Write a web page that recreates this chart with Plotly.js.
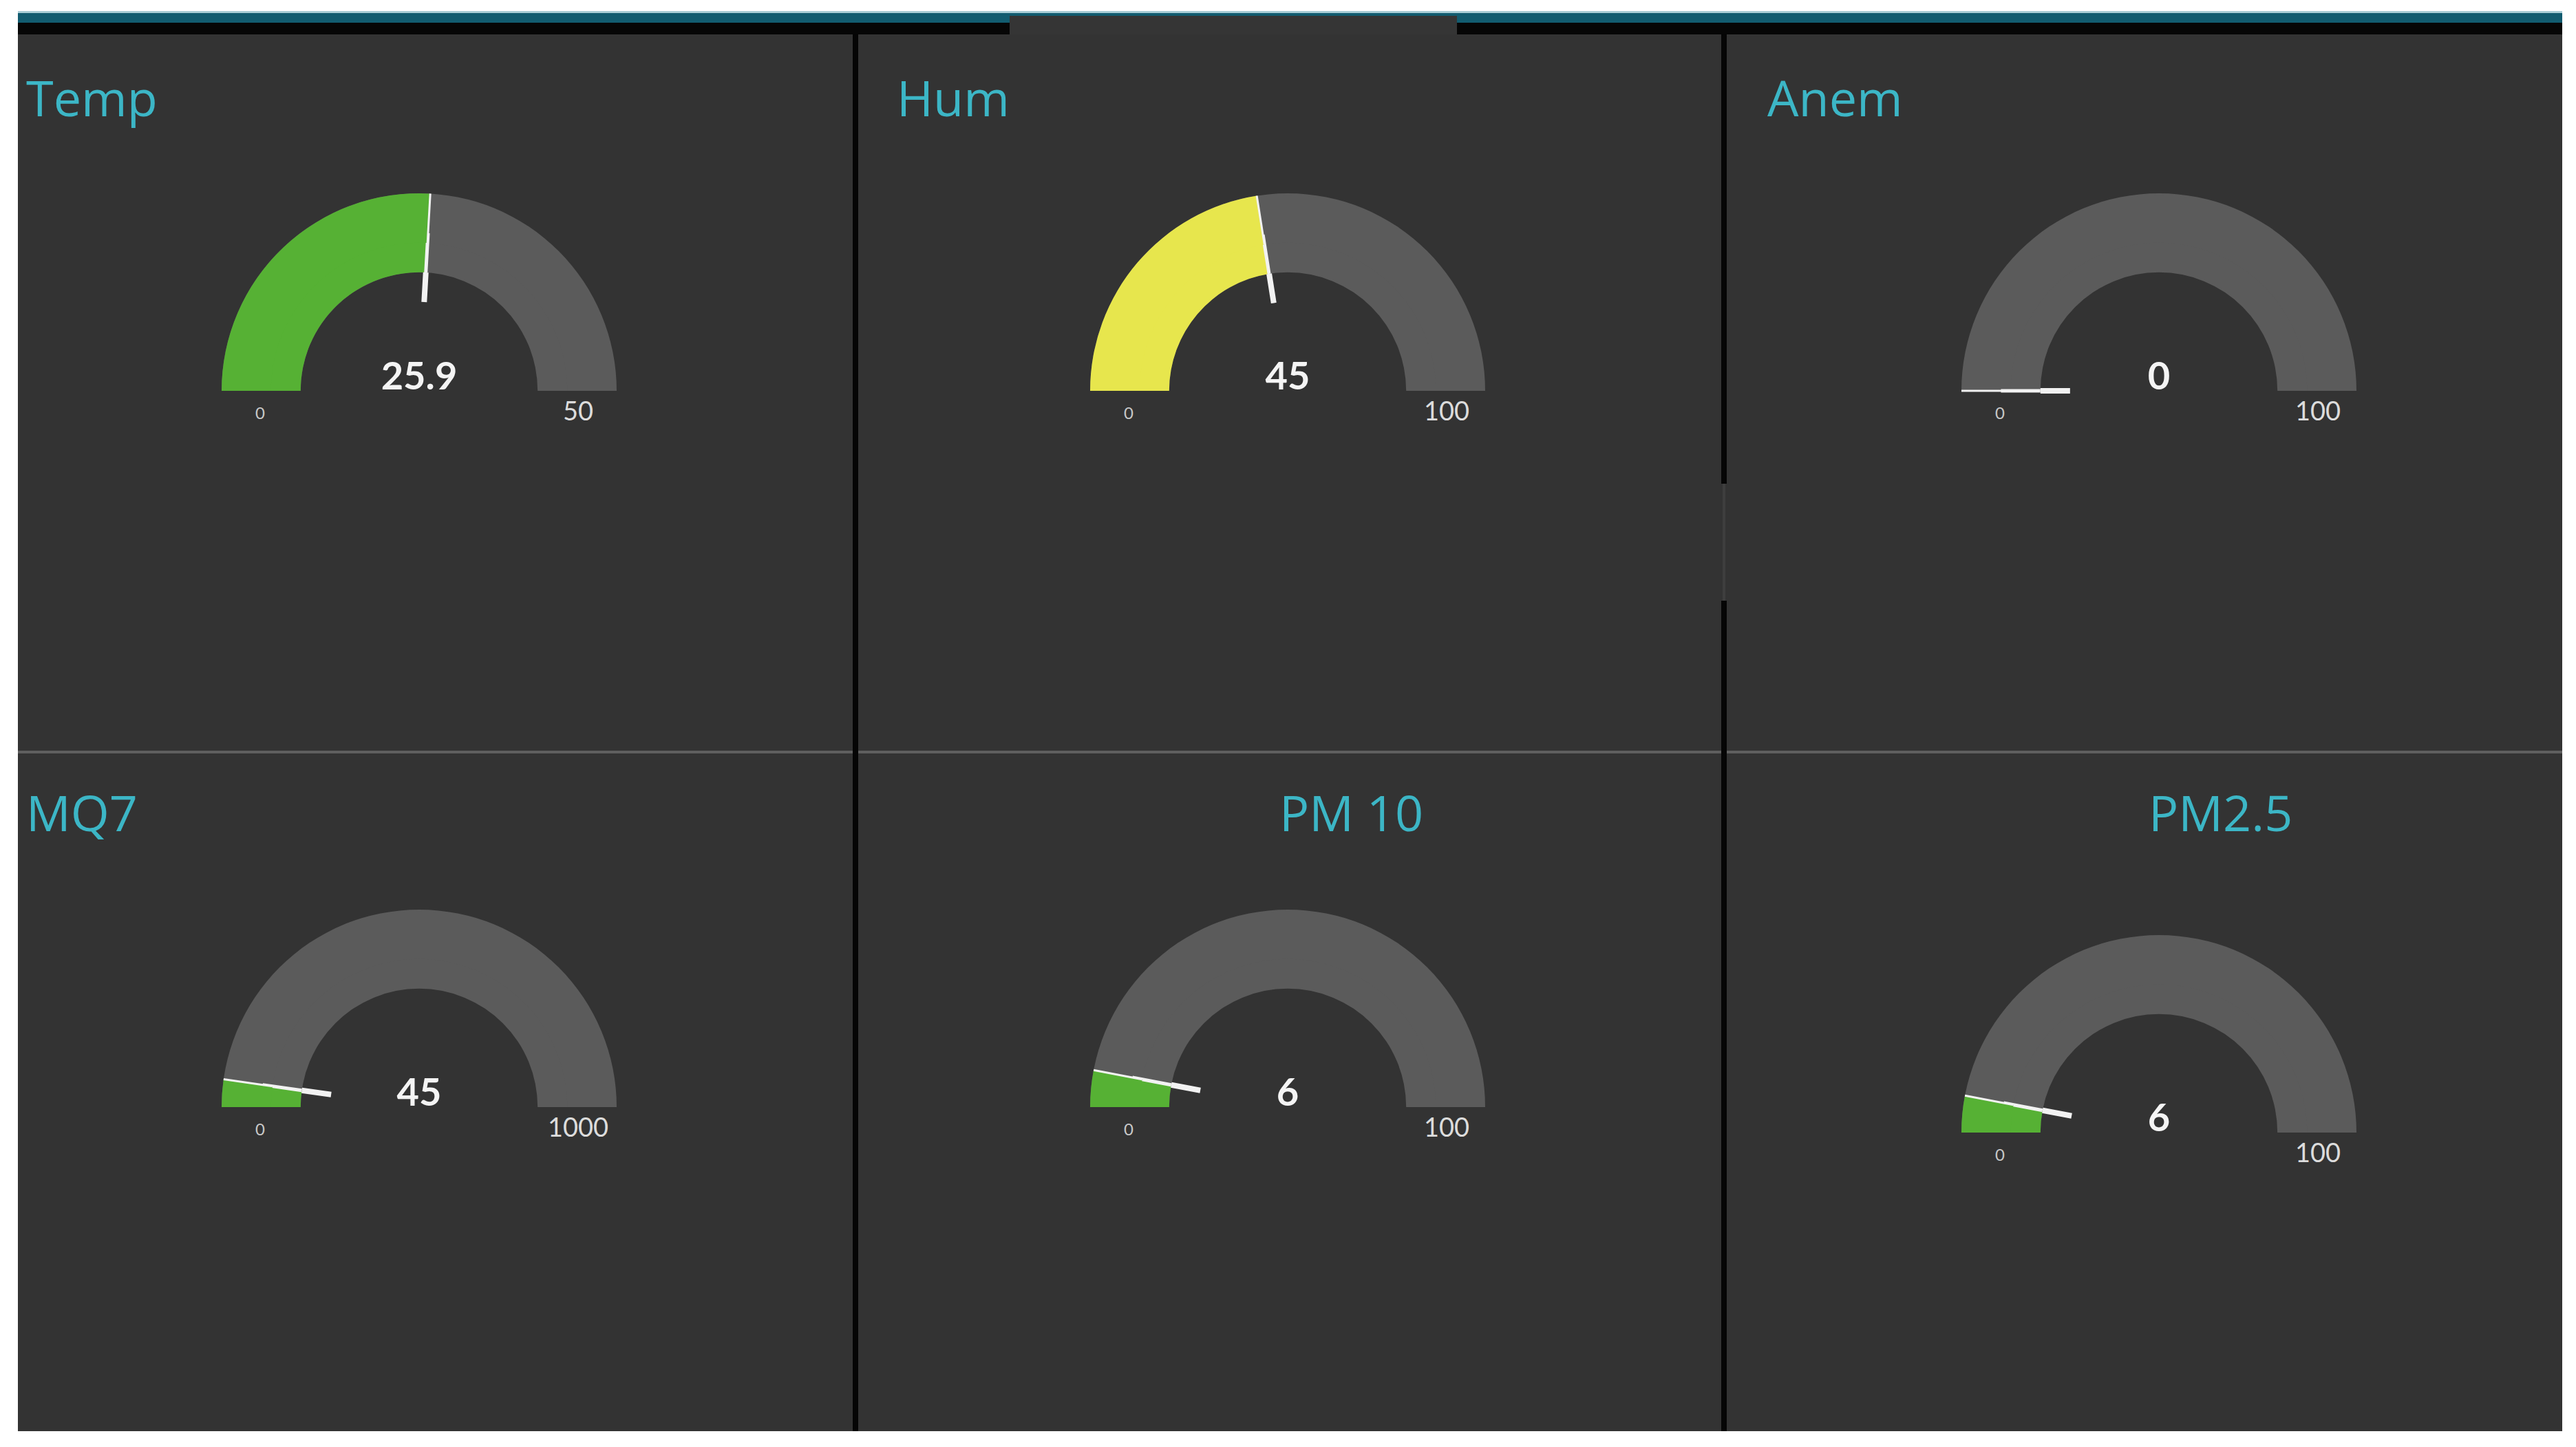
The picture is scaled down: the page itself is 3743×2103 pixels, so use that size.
<!DOCTYPE html>
<html>
<head>
<meta charset="utf-8">
<script src="https://cdn.plot.ly/plotly-3.0.1.min.js"></script>
<style>
  html, body { margin: 0; padding: 0; background: #ffffff; }
  #dash { width: 3743px; height: 2103px; }
</style>
</head>
<body>
<div id="dash"></div>
<script>
var W = 3743, H = 2103;
var FONT = 'Lato, "Open Sans", sans-serif';
var TITLE_FONT = '"Open Sans", Lato, sans-serif';

// gauge data
var names    = ['Temp', 'Hum', 'Anem', 'MQ7', 'PM 10', 'PM2.5'];
var values   = [25.9, 45, 0, 45, 6, 6];
var minima   = [0, 0, 0, 0, 0, 0];
var maxima   = [50, 100, 100, 1000, 100, 100];
var barCols  = ['#56b134', '#e7e64d', '#56b134', '#56b134', '#56b134', '#56b134'];

// where each widget sits on the page (pixels): gauge centre + base line, title left/baseline
var centres  = [[609, 568], [1871, 568], [3137, 568], [609, 1609], [1871, 1609], [3137, 1646]];
var titlePos = [[36, 172], [1301, 172], [2566, 172], [36, 1211], [1857, 1211], [3120, 1211]];
var R = 287;
var GREY = '#5b5b5b';
var NONE = 'rgba(0,0,0,0)';

function fx(px) { return px / W; }
function fy(py) { return 1 - py / H; }

function ring(i, r, mode, bg, bar, needleW, dy) {
  var cx = centres[i][0], by = centres[i][1] + (dy || 0);
  return {
    type: 'indicator',
    mode: mode,
    value: values[i],
    domain: { x: [fx(cx - r), fx(cx + r)], y: [fy(by), fy(by - r)] },
    number: { font: { family: FONT, size: 56, color: '#f4f4f4', weight: 700 } },
    gauge: {
      shape: 'angular',
      axis: { range: [minima[i], maxima[i]], visible: false, showticklabels: false, ticks: '' },
      bar: { color: bar, thickness: 1, line: { width: 0 } },
      bgcolor: bg,
      borderwidth: 0,
      threshold: { value: values[i], thickness: 1, line: { color: needleW ? '#f2f2f2' : NONE, width: needleW || 1 } }
    }
  };
}

// plotly's gauge band is only the outer quarter of the radius, so two rings are
// stacked (backgrounds first, then the value bars) to get the wider band
var data = [];
for (var i = 0; i < names.length; i++) {
  data.push(ring(i, 0.8 * R, 'gauge', GREY, NONE, 0));
  data.push(ring(i, R, 'gauge', GREY, NONE, 0));
  data.push(ring(i, 0.8 * R, 'gauge', NONE, barCols[i], 5));
  data.push(ring(i, R, 'gauge', NONE, barCols[i], 3));
  data.push(ring(i, 0.6 * R, 'gauge', NONE, NONE, 8));
  // invisible ring, a little lower, only to carry the number
  data.push(ring(i, R, 'gauge+number', NONE, NONE, 0, 10));
}

var shapes = [];
function rect(x0, y0, x1, y1, col) {
  shapes.push({ type: 'rect', xref: 'paper', yref: 'paper', layer: 'below',
    x0: fx(x0), x1: fx(x1), y0: fy(y1), y1: fy(y0), fillcolor: col, line: { width: 0 } });
}
rect(26, 16, 3723, 20, '#a9cdd6');
rect(26, 19, 3723, 33, '#125c70');
rect(26, 33, 3723, 50, '#060606');
rect(26, 50, 3723, 2080, '#333333');
rect(1467, 23, 2117, 50, '#353535');
rect(26, 1091, 3723, 1095, '#5f5f5f');
rect(1239, 50, 1247, 2080, '#050505');
rect(2501, 50, 2509, 703, '#050505');
rect(2503, 703, 2507, 873, '#3e3e3e');
rect(2501, 873, 2509, 2080, '#050505');

var annotations = [];
for (var j = 0; j < names.length; j++) {
  var cx = centres[j][0], by = centres[j][1];
  annotations.push({ xref: 'paper', yref: 'paper', x: fx(titlePos[j][0]), y: fy(titlePos[j][1] + 20),
    xanchor: 'left', yanchor: 'bottom', showarrow: false, text: names[j],
    font: { family: TITLE_FONT, size: 72, color: '#3cb6c6' } });
  annotations.push({ xref: 'paper', yref: 'paper', x: fx(cx - 0.806 * R), y: fy(by + 31),
    xanchor: 'center', yanchor: 'middle', showarrow: false, text: String(minima[j]),
    font: { family: FONT, size: 24, color: '#c8c8c8' } });
  annotations.push({ xref: 'paper', yref: 'paper', x: fx(cx + 0.806 * R), y: fy(by + 28),
    xanchor: 'center', yanchor: 'middle', showarrow: false, text: String(maxima[j]),
    font: { family: FONT, size: 38, color: '#dcdcdc' } });
}

var layout = {
  width: W, height: H,
  margin: { l: 0, r: 0, t: 0, b: 0 },
  paper_bgcolor: '#ffffff',
  showlegend: false,
  shapes: shapes,
  annotations: annotations
};

Plotly.newPlot('dash', data, layout, { staticPlot: true, displayModeBar: false });
</script>
</body>
</html>
